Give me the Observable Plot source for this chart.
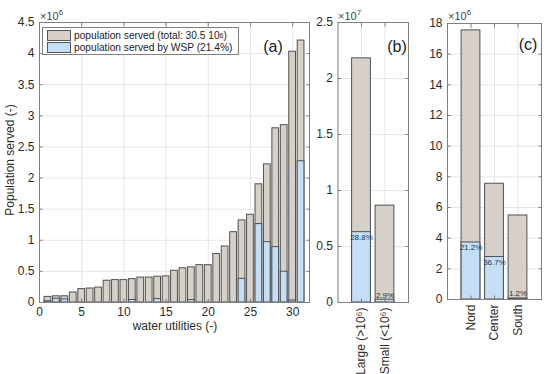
<!DOCTYPE html>
<html><head><meta charset="utf-8">
<script src="https://cdn.jsdelivr.net/npm/d3@7"></script>
<script src="https://cdn.jsdelivr.net/npm/@observablehq/plot@0.6"></script>
<style>
body{margin:0;background:#fff;font-family:"Liberation Sans",Arial,Helvetica,sans-serif;color:#2b2b2b;}
#wrap{position:relative;width:550px;height:374px;overflow:hidden;background:#fff;}
#wrap svg{position:absolute;top:0;}
.t{position:absolute;white-space:nowrap;line-height:1;}
.mult{font-size:11px;color:#444;}
.mult sup{font-size:8px;vertical-align:5px;}
.tag{font-size:16px;color:#222;transform:translate(-50%,-50%);}
#legend{position:absolute;left:42px;top:27px;width:195px;height:26px;border:1px solid #7f7f7f;background:#fff;font-size:10.2px;color:#222;}
#legend .row{position:absolute;left:4px;height:11px;display:flex;align-items:center;}
#legend .sw{width:22px;height:9px;border:1px solid #555;margin-right:3px;}
#legend sup{font-size:7px;vertical-align:4px;}
</style></head><body><div id="wrap"></div>
<script>
// ---------- Panel (a): water utilities (population in 10^6) ----------
const utilities = [1,2,3,4,5,6,7,8,9,10,11,12,13,14,15,16,17,18,19,20,21,22,23,24,25,26,27,28,29,30,31];
const popServed = [0.09,0.10,0.10,0.16,0.215,0.225,0.24,0.35,0.36,0.36,0.375,0.40,0.40,0.415,0.42,0.51,0.55,0.565,0.60,0.60,0.78,0.90,1.13,1.32,1.41,1.90,2.22,2.80,2.85,4.03,4.21];
const popWSP    = [0.02,0.06,0.05,0,0,0,0,0,0,0,0.04,0,0,0.055,0,0,0,0.04,0,0,0,0,0,0.38,0,1.26,0.97,0.89,0.495,0.03,2.27];
const aXTicks = [0,5,10,15,20,25,30];
const aYTicks = [0,0.5,1,1.5,2,2.5,3,3.5,4,4.5];

// ---------- Panel (b): size classes (population in 10^7) ----------
const sizeClasses = ["Large (>10⁶)","Small (<10⁶)"];
const sizeServed = [2.18,0.865];
const sizeWSP    = [0.628,0.025];
const sizePct    = ["28.8%","2.9%"];
const bYTicks = [0,0.5,1,1.5,2,2.5];

// ---------- Panel (c): regions (population in 10^6) ----------
const regions = ["Nord","Center","South"];
const regionServed = [17.55,7.55,5.48];
const regionWSP    = [3.72,2.77,0.066];
const regionPct    = ["21.2%","36.7%","1.2%"];
const cYTicks = [0,2,4,6,8,10,12,14,16,18];

const GRAY = "#d6d0c9", BLUE = "#c4def6", EDGE = "#505050", AX = "#7f7f7f", GRID = "#e6e6e6";
const wrap = document.getElementById("wrap");

function panel(o) {
  const data = o.cats.map((c, i) => ({x: o.xs[i], served: o.served[i], wsp: o.wsp[i], pct: o.pct ? o.pct[i] : ""}));
  const tickOnly = () => "";
  const marks = [
    Plot.gridX(o.xGrid, {stroke: GRID, strokeOpacity: 1}),
    Plot.gridY(o.yTicks, {stroke: GRID, strokeOpacity: 1}),
    Plot.rectY(data, {x1: d => d.x - 0.4, x2: d => d.x + 0.4, y: "served", fill: GRAY, stroke: EDGE, strokeWidth: 1}),
    Plot.rectY(data.filter(d => d.wsp > 0), {x1: d => d.x - 0.4, x2: d => d.x + 0.4, y: "wsp", fill: BLUE, stroke: EDGE, strokeWidth: 1}),
    Plot.frame({stroke: AX}),
    Plot.axisY(o.yTicks, {anchor: "left", tickSize: 0, tickPadding: 5, tickFormat: d => String(d), label: null, fontSize: 12}),
    Plot.axisY(o.yTicks, {anchor: "left", tickSize: -3.5, tickFormat: tickOnly, label: null, stroke: AX}),
    Plot.axisY(o.yTicks, {anchor: "right", tickSize: -3.5, tickFormat: tickOnly, label: null, stroke: AX}),
    Plot.axisX(o.xTicks, {anchor: "bottom", tickSize: 0, tickPadding: 5, tickFormat: o.xFmt, tickRotate: o.xRotate || 0, label: null, fontSize: 12}),
    Plot.axisX(o.xTicks, {anchor: "bottom", tickSize: -3.5, tickFormat: tickOnly, label: null, stroke: AX}),
    Plot.axisX(o.xTicks, {anchor: "top", tickSize: -3.5, tickFormat: tickOnly, label: null, stroke: AX})
  ];
  if (o.pct) {
    const big = d3.max(o.served) * 0.1;
    marks.push(Plot.text(data.filter(d => d.wsp > big), {x: "x", y: "wsp", text: "pct", lineAnchor: "top", dy: 2, fontSize: 8, fill: "#1d3350"}));
    marks.push(Plot.text(data.filter(d => d.wsp <= big), {x: "x", y: "wsp", text: "pct", lineAnchor: "bottom", dy: -2, fontSize: 8, fill: "#333"}));
  }
  const svg = Plot.plot({
    width: o.width, height: 374,
    marginTop: o.m[0], marginRight: o.m[1], marginBottom: o.m[2], marginLeft: o.m[3],
    x: {type: "linear", domain: o.xDomain},
    y: {type: "linear", domain: o.yDomain},
    style: {fontFamily: '"Liberation Sans", Arial, sans-serif', fontSize: "12px", color: "#2b2b2b", background: "transparent", overflow: "visible"},
    marks
  });
  svg.style.left = o.left + "px";
  wrap.appendChild(svg);
}

panel({left: 0, width: 320, m: [22, 11, 72, 39], cats: utilities, xs: utilities, served: popServed, wsp: popWSP,
  xDomain: [0, 32], xTicks: aXTicks, xGrid: aXTicks, xFmt: d => String(d), yDomain: [0, 4.5], yTicks: aYTicks});

panel({left: 310, width: 110, m: [22, 12, 72, 27.5], cats: sizeClasses, xs: [1, 2], served: sizeServed, wsp: sizeWSP, pct: sizePct,
  xDomain: [0, 3], xTicks: [1, 2], xGrid: [1, 2], xFmt: d => sizeClasses[d - 1], xRotate: -90, yDomain: [0, 2.5], yTicks: bYTicks});

panel({left: 420, width: 130, m: [23, 9, 75, 27], cats: regions, xs: [1, 2, 3], served: regionServed, wsp: regionWSP, pct: regionPct,
  xDomain: [0, 4], xTicks: [1, 2, 3], xGrid: [1, 2, 3], xFmt: d => regions[d - 1], xRotate: -90, yDomain: [0, 18], yTicks: cYTicks});

// overlays: multipliers, panel tags, axis titles, legend
const html = `
<div class="t mult" style="left:40px;top:9px;">×10<sup>6</sup></div>
<div class="t mult" style="left:338px;top:9px;">×10<sup>7</sup></div>
<div class="t mult" style="left:448px;top:9px;">×10<sup>6</sup></div>
<div class="t tag" style="left:273px;top:47px;">(a)</div>
<div class="t tag" style="left:397px;top:47px;">(b)</div>
<div class="t tag" style="left:528px;top:45px;">(c)</div>
<div class="t" style="left:175px;top:326px;font-size:12px;transform:translate(-50%,-50%);">water utilities (-)</div>
<div class="t" style="left:10px;top:160px;font-size:12px;transform:translate(-50%,-50%) rotate(-90deg);">Population served (-)</div>
<div id="legend">
  <div class="row" style="top:2px;"><div class="sw" style="background:${GRAY}"></div>population served (total: 30.5 10<sup>6</sup>)</div>
  <div class="row" style="top:14px;"><div class="sw" style="background:${BLUE}"></div>population served by WSP (21.4%)</div>
</div>`;
wrap.insertAdjacentHTML("beforeend", html);
</script>
</body></html>
